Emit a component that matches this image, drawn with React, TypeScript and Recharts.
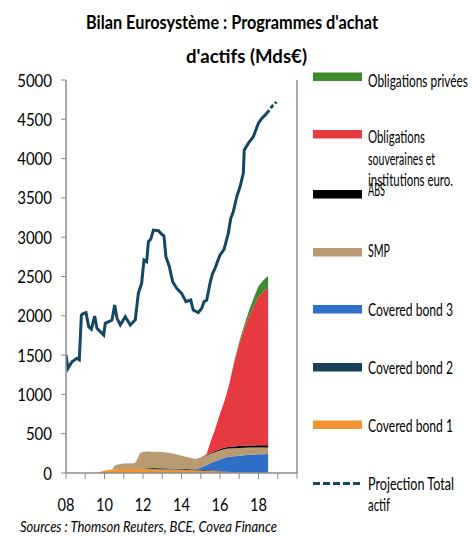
import React from 'react';
import { ComposedChart, Area, Line, XAxis, YAxis, ReferenceLine, Legend } from 'recharts';

const FONT = "'Liberation Sans Narrow', Lato, 'Open Sans', sans-serif";
const GRAY = '#8c8c8c';
const GRID = '#b8b8b8';

// Stacked programme holdings (Mds€), by date (fractional years)
const areaYears = [2008, 2009.6, 2009.75, 2010, 2010.25, 2010.4, 2010.5, 2010.65, 2011, 2011.55, 2011.65, 2011.85, 2012, 2012.25, 2012.5, 2013, 2013.5, 2014, 2014.5, 2014.75, 2015, 2015.3, 2015.5, 2015.75, 2016, 2016.25, 2016.45, 2016.5, 2016.75, 2017, 2017.25, 2017.5, 2017.75, 2018, 2018.25, 2018.5];
const coveredBond1 = [0, 0, 12, 28, 40, 46, 48, 49, 50, 50, 50, 50, 50, 50, 49, 46, 43, 40, 36, 33, 30, 27, 25, 22, 18, 12, 9, 8, 4, 2, 1, 0, 0, 0, 0, 0];
const coveredBond2 = [0, 0, 0, 0, 0, 0, 0, 0, 0, 0, 0, 3, 8, 12, 15, 16, 15, 14, 12, 11, 10, 9, 9, 8, 7, 7, 6, 6, 6, 5, 5, 5, 5, 4, 4, 4];
const coveredBond3 = [0, 0, 0, 0, 0, 0, 0, 0, 0, 0, 0, 0, 0, 0, 0, 0, 0, 0, 0, 3, 30, 62, 90, 120, 148, 178, 190, 192, 203, 212, 220, 226, 230, 234, 236, 238];
const smp = [0, 0, 0, 0, 0, 0, 40, 55, 72, 74, 100, 200, 210, 210, 207, 205, 192, 165, 142, 130, 122, 125, 122, 118, 112, 108, 106, 105, 102, 100, 96, 93, 90, 88, 85, 83];
const abs = [0, 0, 0, 0, 0, 0, 0, 0, 0, 0, 0, 0, 0, 0, 0, 0, 0, 0, 0, 0, 3, 6, 9, 13, 16, 19, 20, 21, 22, 23, 24, 25, 25, 26, 27, 27];
const souveraines = [0, 0, 0, 0, 0, 0, 0, 0, 0, 0, 0, 0, 0, 0, 0, 0, 0, 0, 0, 0, 0, 8, 135, 279, 454, 605, 769, 818, 1083, 1298, 1484, 1641, 1775, 1893, 1958, 2010];
const privees = [0, 0, 0, 0, 0, 0, 0, 0, 0, 0, 0, 0, 0, 0, 0, 0, 0, 0, 0, 0, 0, 0, 0, 0, 0, 0, 0, 3, 15, 30, 45, 70, 100, 130, 142, 145];

// Total actif Eurosystème
const totalYears = [2008, 2008.1, 2008.31, 2008.57, 2008.69, 2008.8, 2008.92, 2009.04, 2009.18, 2009.32, 2009.49, 2009.61, 2009.78, 2009.96, 2010.04, 2010.22, 2010.39, 2010.53, 2010.65, 2010.82, 2011.08, 2011.34, 2011.5, 2011.6, 2011.76, 2011.93, 2012.05, 2012.19, 2012.28, 2012.4, 2012.54, 2012.8, 2012.97, 2013.09, 2013.19, 2013.37, 2013.54, 2013.75, 2014.01, 2014.23, 2014.48, 2014.61, 2014.87, 2015.05, 2015.17, 2015.31, 2015.48, 2015.6, 2015.74, 2016, 2016.21, 2016.43, 2016.56, 2016.69, 2016.87, 2017.04, 2017.21, 2017.26, 2017.47, 2017.73, 2017.99, 2018.17, 2018.43];
const totalValues = [1501, 1330, 1416, 1459, 1440, 2010, 2031, 2040, 1861, 1830, 1997, 1840, 1798, 1755, 1904, 1925, 1946, 2137, 1968, 1883, 1988, 1883, 1925, 1950, 2290, 2413, 2709, 2688, 2942, 2973, 3091, 3082, 3040, 3015, 2751, 2624, 2433, 2349, 2286, 2179, 2201, 2073, 2040, 2095, 2179, 2201, 2413, 2530, 2604, 2773, 2845, 3049, 3240, 3324, 3515, 3642, 3812, 4109, 4194, 4278, 4448, 4512, 4576];

// Projection Total actif
const projYears = [2018.43, 2018.6, 2018.75, 2018.93];
const projValues = [4576, 4630, 4680, 4720];

const yTicks = [0, 500, 1000, 1500, 2000, 2500, 3000, 3500, 4000, 4500, 5000];
const xTicks = [2008, 2009, 2010, 2011, 2012, 2013, 2014, 2015, 2016, 2017, 2018, 2019, 2020];
const xLabels = ['08', '', '10', '', '12', '', '14', '', '16', '', '18', '', ''];
const gridYears = [2010, 2012, 2014, 2016, 2018];
const gridValues = [500, 1000, 1500, 2000, 2500, 3000, 3500, 4000, 4500, 5000];

const areaData = areaYears.map((t, i) => ({
  t,
  cb1: coveredBond1[i],
  cb2: coveredBond2[i],
  cb3: coveredBond3[i],
  smp: smp[i],
  abs: abs[i],
  souv: souveraines[i],
  priv: privees[i],
}));
const totalData = totalYears.map((t, i) => ({ t, total: totalValues[i] }));
const projData = projYears.map((t, i) => ({ t, proj: projValues[i] }));

const COLORS = {
  priv: '#3e8b2f',
  souv: '#e63a40',
  abs: '#000000',
  smp: '#b89b70',
  cb3: '#2f6fc8',
  cb2: '#17405a',
  cb1: '#f39332',
  line: '#134764',
};

const MARGIN = { top: 80, right: 170, bottom: 23, left: 10 };

const YTick = (props: any) => {
  const { x, y, payload } = props;
  const s = String(payload.value);
  return (
    <text x={x} y={y + 6.5} textAnchor="end" fontFamily={FONT} fontSize={16.5} fill="#000" textLength={s.length * 8.7} lengthAdjust="spacingAndGlyphs">
      {s}
    </text>
  );
};

const XTick = (props: any) => {
  const { x, y, payload } = props;
  const idx = xTicks.indexOf(payload.value);
  const s = idx >= 0 ? xLabels[idx] : '';
  if (!s) return <g />;
  return (
    <text x={x} y={y + 29.5} textAnchor="middle" fontFamily={FONT} fontSize={16.5} fill="#000" textLength={17} lengthAdjust="spacingAndGlyphs">
      {s}
    </text>
  );
};

type LegendRow = { lines: { text: string; y: number; w: number }[]; color: string; sy: number; dashed?: boolean };
const legendRows: LegendRow[] = [
  { color: COLORS.priv, sy: 72.5, lines: [{ text: 'Obligations privées', y: 87, w: 100 }] },
  {
    color: COLORS.souv, sy: 130, lines: [
      { text: 'Obligations', y: 143, w: 57 },
      { text: 'souveraines et', y: 164.5, w: 67 },
      { text: 'institutions euro.', y: 185.5, w: 85 },
    ],
  },
  { color: COLORS.abs, sy: 190, lines: [{ text: 'ABS', y: 196, w: 17 }] },
  { color: COLORS.smp, sy: 248, lines: [{ text: 'SMP', y: 257, w: 22 }] },
  { color: COLORS.cb3, sy: 305, lines: [{ text: 'Covered bond 3', y: 316, w: 85 }] },
  { color: COLORS.cb2, sy: 363, lines: [{ text: 'Covered bond 2', y: 373.5, w: 85 }] },
  { color: COLORS.cb1, sy: 420.5, lines: [{ text: 'Covered bond 1', y: 431.5, w: 85 }] },
  {
    color: COLORS.line, sy: 483.5, dashed: true, lines: [
      { text: 'Projection Total', y: 490, w: 86 },
      { text: 'actif', y: 511, w: 22 },
    ],
  },
];

const renderLegend = () => (
  <svg width={172} height={476} style={{ display: 'block' }}>
    <g transform="translate(-300,-60)">
      {legendRows.map((r, i) => (
        <g key={i}>
          {r.dashed ? (
            <line x1={313} x2={362} y1={r.sy} y2={r.sy} stroke={r.color} strokeWidth={3} strokeDasharray="7 3" />
          ) : (
            <rect x={313} y={r.sy} width={49} height={8.5} fill={r.color} />
          )}
          {r.lines.map((l, j) => (
            <text key={j} x={368} y={l.y} fontFamily={FONT} fontSize={16.5} fill="#000" textLength={l.w} lengthAdjust="spacingAndGlyphs">
              {l.text}
            </text>
          ))}
        </g>
      ))}
    </g>
  </svg>
);

export default function App() {
  return (
    <div style={{ position: 'absolute', left: 0, top: 0, width: 472, height: 536, background: '#fff', overflow: 'hidden' }}>
      <svg width={472} height={536} style={{ position: 'absolute', left: 0, top: 0 }}>
        <text x={86} y={29} fontFamily={FONT} fontWeight="bold" fontSize={19} fill="#000" textLength={292} lengthAdjust="spacingAndGlyphs">
          Bilan Eurosystème : Programmes d'achat
        </text>
        <text x={186} y={63} fontFamily={FONT} fontWeight="bold" fontSize={19} fill="#000" textLength={121} lengthAdjust="spacingAndGlyphs">
          d'actifs (Mds€)
        </text>
        <text x={20} y={532} fontFamily={FONT} fontStyle="italic" fontSize={14.5} fill="#000" textLength={257} lengthAdjust="spacingAndGlyphs">
          Sources : Thomson Reuters, BCE, Covea Finance
        </text>
      </svg>
      {/* background layer: dotted grid, beneath the series */}
      <div style={{ position: 'absolute', left: 0, top: 0 }}>
        <ComposedChart width={472} height={536} data={areaData} margin={MARGIN}>
          <XAxis dataKey="t" type="number" domain={[2008, 2020]} ticks={xTicks} height={40} axisLine={false} tickLine={false} tick={false} />
          <YAxis domain={[0, 5000]} ticks={yTicks} width={56} axisLine={false} tickLine={false} tick={false} />
          <YAxis yAxisId="r" orientation="right" domain={[0, 5000]} width={5} axisLine={false} tickLine={false} tick={false} />
          {gridValues.map((v) => (
            <ReferenceLine key={'h' + v} y={v} stroke={GRID} strokeWidth={1} strokeDasharray="2 2" />
          ))}
          {gridYears.map((v) => (
            <ReferenceLine key={'v' + v} x={v} stroke={GRID} strokeWidth={1} strokeDasharray="2 2" />
          ))}
        </ComposedChart>
      </div>
      <div style={{ position: 'absolute', left: 0, top: 0 }}>
        <ComposedChart width={472} height={536} data={areaData} margin={MARGIN}>
          <XAxis
            dataKey="t"
            type="number"
            domain={[2008, 2020]}
            ticks={xTicks}
            interval={0}
            allowDataOverflow
            tickSize={6}
            tickMargin={2}
            height={40}
            axisLine={{ stroke: GRAY, strokeWidth: 1.5 }}
            tickLine={{ stroke: GRAY }}
            tick={<XTick />}
          />
          <YAxis
            domain={[0, 5000]}
            ticks={yTicks}
            interval={0}
            tickSize={5}
            tickMargin={9}
            width={56}
            axisLine={{ stroke: GRAY, strokeWidth: 1.5 }}
            tickLine={{ stroke: GRAY }}
            tick={<YTick />}
          />
          <YAxis
            yAxisId="r"
            orientation="right"
            domain={[0, 5000]}
            ticks={yTicks}
            interval={0}
            tickSize={5}
            width={5}
            tick={false}
            axisLine={{ stroke: GRAY, strokeWidth: 1.5 }}
            tickLine={{ stroke: GRAY }}
          />
          <Area type="linear" dataKey="cb1" stackId="a" fill={COLORS.cb1} fillOpacity={1} stroke="none" isAnimationActive={false} />
          <Area type="linear" dataKey="cb2" stackId="a" fill={COLORS.cb2} fillOpacity={1} stroke="none" isAnimationActive={false} />
          <Area type="linear" dataKey="cb3" stackId="a" fill={COLORS.cb3} fillOpacity={1} stroke="none" isAnimationActive={false} />
          <Area type="linear" dataKey="smp" stackId="a" fill={COLORS.smp} fillOpacity={1} stroke="none" isAnimationActive={false} />
          <Area type="linear" dataKey="abs" stackId="a" fill={COLORS.abs} fillOpacity={1} stroke="none" isAnimationActive={false} />
          <Area type="linear" dataKey="souv" stackId="a" fill={COLORS.souv} fillOpacity={1} stroke="none" isAnimationActive={false} />
          <Area type="linear" dataKey="priv" stackId="a" fill={COLORS.priv} fillOpacity={1} stroke="none" isAnimationActive={false} />
          <Line data={totalData} type="linear" dataKey="total" stroke={COLORS.line} strokeWidth={3} dot={false} isAnimationActive={false} />
          <Line data={projData} type="linear" dataKey="proj" stroke={COLORS.line} strokeWidth={3} strokeDasharray="4 2.5" dot={false} isAnimationActive={false} />
          <Legend
            layout="vertical"
            align="center"
            verticalAlign="middle"
            wrapperStyle={{ left: 300, top: 60, width: 172, height: 476 }}
            content={renderLegend}
          />
        </ComposedChart>
      </div>
    </div>
  );
}
